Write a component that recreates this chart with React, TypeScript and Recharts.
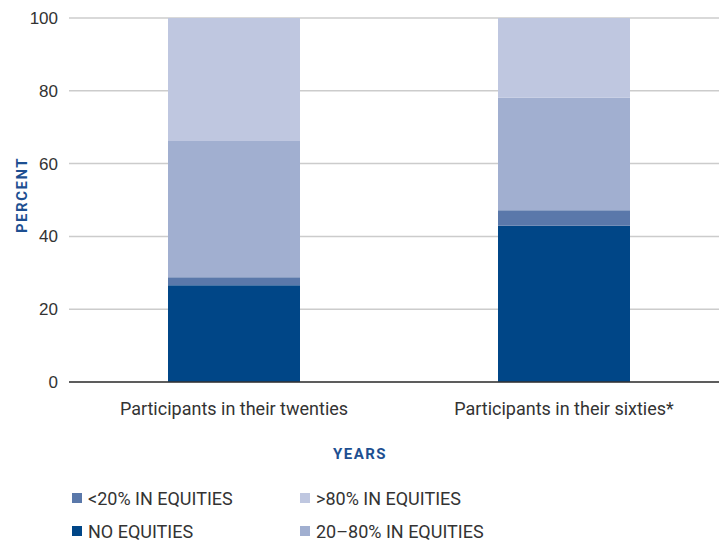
import { BarChart, Bar, XAxis, YAxis, CartesianGrid } from 'recharts';

const groups = ['Participants in their twenties', 'Participants in their sixties*'];
const noEquities = [26.6, 42.9];
const under20 = [2.2, 4.3];
const mid20to80 = [37.4, 30.9];
const over80 = [33.8, 21.9];
const yTicks = [0, 20, 40, 60, 80, 100];

const series = [
  { key: 'none', name: 'NO EQUITIES', color: '#004687' },
  { key: 'low', name: '<20% IN EQUITIES', color: '#5a78aa' },
  { key: 'mid', name: '20–80% IN EQUITIES', color: '#a1afd0' },
  { key: 'high', name: '>80% IN EQUITIES', color: '#bfc7e0' },
];

// legend reads in two rows, two columns
const legendRows = [
  ['low', 'high'],
  ['none', 'mid'],
];

const data = groups.map((g, i) => ({
  group: g,
  none: noEquities[i],
  low: under20[i],
  mid: mid20to80[i],
  high: over80[i],
}));

const blue = '#1d4f91';
const tickFont = { fontSize: 17, fill: '#333', fontFamily: 'Liberation Sans, Arial, sans-serif' };
const catFont = { fontSize: 18, fill: '#333', fontFamily: 'Roboto, sans-serif' };

export default function App() {
  return (
    <div style={{ position: 'absolute', left: 0, top: 0, width: 719, height: 541, overflow: 'hidden', background: '#fff' }}>
      <BarChart width={729} height={470} data={data} margin={{ top: 18, right: 0, bottom: 0, left: 0 }}>
        <CartesianGrid vertical={false} stroke="#cccccc" strokeWidth={1.5} />
        <XAxis
          dataKey="group"
          axisLine={{ stroke: '#333', strokeWidth: 1.5 }}
          tickLine={false}
          tickSize={0}
          tickMargin={20}
          height={88}
          tick={catFont}
          label={{
            content: () => (
              <text x={360} y={459} textAnchor="middle" fill={blue} fontSize={15} fontWeight="bold"
                fontFamily="Roboto, sans-serif" letterSpacing={1.5}>YEARS</text>
            ),
          }}
        />
        <YAxis
          domain={[0, 100]}
          ticks={yTicks}
          width={69}
          axisLine={false}
          tickLine={false}
          tickSize={0}
          tickMargin={11}
          tick={tickFont}
          label={{
            content: () => (
              <text x={27} y={195} transform="rotate(-90 27 195)" textAnchor="middle" fill={blue}
                fontSize={15} fontWeight="bold" fontFamily="Roboto, sans-serif" letterSpacing={1.5}>PERCENT</text>
            ),
          }}
        />
        {series.map((s) => (
          <Bar key={s.key} dataKey={s.key} name={s.name} stackId="a" fill={s.color} barSize={132} isAnimationActive={false} />
        ))}
      </BarChart>
      {legendRows.map((row, r) => (
        <div key={r} style={{ position: 'absolute', top: 487 + r * 33, left: 72, display: 'flex', fontFamily: 'Roboto, sans-serif', fontSize: 18, color: '#333' }}>
          {row.map((k) => {
            const s = series.find((x) => x.key === k)!;
            return (
              <div key={k} style={{ width: 228, display: 'flex', alignItems: 'center', height: 22 }}>
                <span style={{ width: 10, height: 10, background: s.color, marginRight: 6, display: 'inline-block' }} />
                <span>{s.name}</span>
              </div>
            );
          })}
        </div>
      ))}
    </div>
  );
}
